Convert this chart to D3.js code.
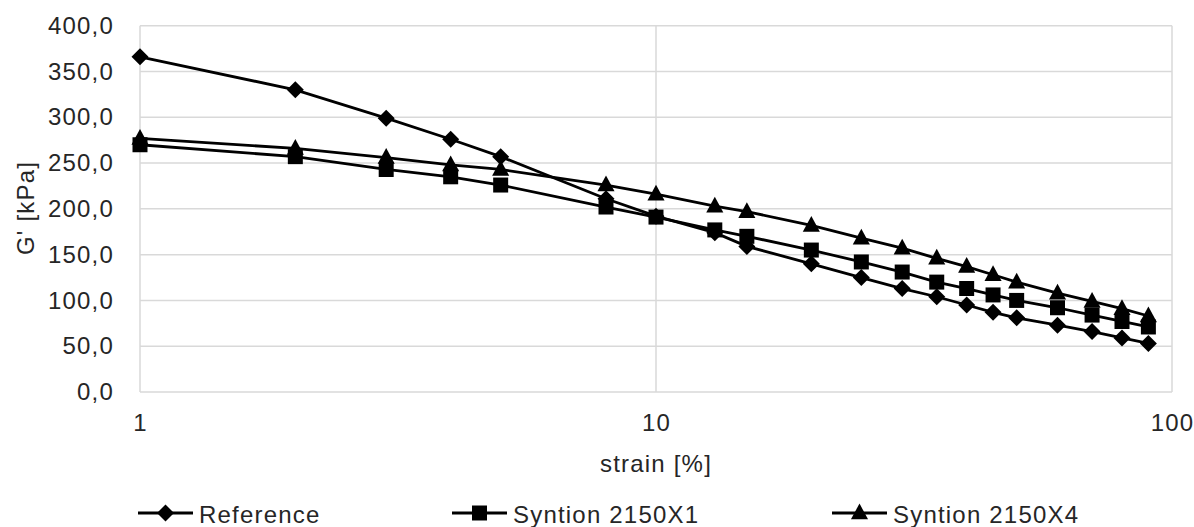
<!DOCTYPE html>
<html>
<head>
<meta charset="utf-8">
<script src="https://cdn.jsdelivr.net/npm/d3@7"></script>
<style>
  html, body { margin: 0; padding: 0; background: #fff; }
  svg { display: block; }
  text { font-family: "Liberation Sans", Arial, sans-serif; fill: #262626; }
</style>
</head>
<body>
<svg id="chart" width="1194" height="527"></svg>
<script>
const strain = [1, 2, 3, 4, 5, 8, 10, 13, 15, 20, 25, 30, 35, 40, 45, 50, 60, 70, 80, 90];
const referenceValues = [366, 330, 299, 276, 257, 211, 192, 174, 159, 140, 125, 113, 104, 95, 87, 81, 73, 66, 59, 53];
const x1Values = [270, 257, 243, 235, 226, 202, 191, 177, 170, 155, 142, 131, 120, 113, 106, 100, 92, 84, 77, 71];
const x4Values = [277, 266, 256, 248, 243, 226, 216, 203, 197, 182, 168, 157, 146, 137, 128, 120, 108, 99, 91, 83];
const seriesNames = ["Reference", "Syntion 2150X1", "Syntion 2150X4"];
const seriesMarkers = ["diamond", "square", "triangle"];
const xTicks = [1, 10, 100];
const yTicks = [0, 50, 100, 150, 200, 250, 300, 350, 400];
const xTitle = "strain [%]";
const yTitle = "G' [kPa]";

const series = [referenceValues, x1Values, x4Values].map((vals, i) => ({
  name: seriesNames[i], marker: seriesMarkers[i],
  points: strain.map((s, j) => ({ x: s, y: vals[j] }))
}));

const svg = d3.select("#chart");
const pLeft = 140, pRight = 1172, pTop = 25.7, pBottom = 392;
const x = d3.scaleLog().domain([1, 100]).range([pLeft, pRight]);
const y = d3.scaleLinear().domain([0, 400]).range([pBottom, pTop]);

const FONT = "24px";
const LS = "1.2px";

const grid = "#d9d9d9";
svg.append("g").selectAll("line").data(yTicks).join("line")
  .attr("x1", pLeft).attr("x2", pRight)
  .attr("y1", d => y(d)).attr("y2", d => y(d))
  .attr("stroke", grid).attr("stroke-width", 1.5);
svg.append("g").selectAll("line").data(xTicks).join("line")
  .attr("x1", d => x(d)).attr("x2", d => x(d))
  .attr("y1", pTop).attr("y2", pBottom)
  .attr("stroke", grid).attr("stroke-width", 1.5);

const fmt = d => d3.format(".1f")(d).replace(".", ",");

const yAxis = svg.append("g").attr("transform", `translate(${pLeft},0)`)
  .call(d3.axisLeft(y).tickValues(yTicks).tickFormat(fmt).tickSize(0).tickPadding(26));
yAxis.select(".domain").remove();
yAxis.selectAll("text").style("font-size", FONT).style("letter-spacing", LS)
  .style("font-family", "Liberation Sans, Arial, sans-serif").attr("fill", "#262626");

const xAxis = svg.append("g").attr("transform", `translate(0,${pBottom})`)
  .call(d3.axisBottom(x).tickValues(xTicks).tickFormat(d3.format("d")).tickSize(0).tickPadding(22));
xAxis.select(".domain").remove();
xAxis.selectAll("text").style("font-size", FONT).style("letter-spacing", LS)
  .style("font-family", "Liberation Sans, Arial, sans-serif").attr("fill", "#262626");

svg.append("text").attr("x", x(10)).attr("y", 472)
  .attr("text-anchor", "middle").style("font-size", FONT).style("letter-spacing", LS).text(xTitle);
svg.append("text").attr("transform", `translate(34,208) rotate(-90)`)
  .attr("text-anchor", "middle").style("font-size", FONT).style("letter-spacing", LS).text(yTitle);

function markerPath(type, s) {
  if (type === "diamond") return `M0,${-s}L${s},0L0,${s}L${-s},0Z`;
  if (type === "square") return `M${-s},${-s}H${s}V${s}H${-s}Z`;
  return `M0,${-s*1.05}L${s*0.95},${s*0.7}L${-s*0.95},${s*0.7}Z`;
}
const markerSize = { diamond: 8.5, square: 7.5, triangle: 9 };

const line = d3.line().x(d => x(d.x)).y(d => y(d.y));
series.forEach(s => {
  svg.append("path").datum(s.points).attr("d", line)
    .attr("fill", "none").attr("stroke", "#000").attr("stroke-width", 2.8);
  svg.append("g").selectAll("path").data(s.points).join("path")
    .attr("transform", d => `translate(${x(d.x)},${y(d.y)})`)
    .attr("d", markerPath(s.marker, markerSize[s.marker]))
    .attr("fill", "#000");
});

const legendX = [138, 452, 832];
const legendY = 513;
series.forEach((s, i) => {
  const g = svg.append("g").attr("transform", `translate(${legendX[i]},${legendY})`);
  g.append("line").attr("x1", 0).attr("x2", 55).attr("y1", 0).attr("y2", 0)
    .attr("stroke", "#000").attr("stroke-width", 2.8);
  g.append("path").attr("transform", "translate(27.5,0)")
    .attr("d", markerPath(s.marker, markerSize[s.marker])).attr("fill", "#000");
  g.append("text").attr("x", 61).attr("y", 10).style("font-size", FONT)
    .style("letter-spacing", LS).text(s.name);
});
</script>
</body>
</html>
